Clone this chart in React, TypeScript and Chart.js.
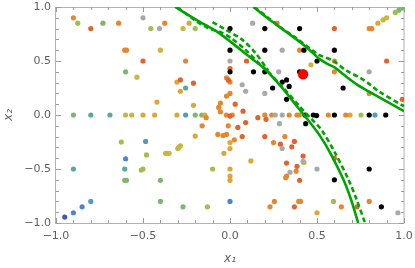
import React, { useEffect, useRef } from "react";
import { Chart, registerables } from "chart.js";

Chart.register(...registerables);

// ---------- data ----------
const tickValues = [-1, -0.5, 0, 0.5, 1];

const blackPts = [[0,0.8],[0.2,0.8],[0.4,0.8],[0,0.6],[0.2,0.6],[0.425,0.6],[0.6,0.6],[0.5,0.5],[0,0.4],[0.135,0.4],[0.2,0.4],[0.4,0.4],[0.3,0.305],[0.325,0.325],[0.245,0.25],[0.34,0.265],[0.65,0.25],[0.325,0.145],[0.431,0],[0.479,0],[0.498,-0.005],[0.6,0],[0.8,0],[0.895,0],[0.435,-0.08],[0.6,-0.6],[0.8,-0.5],[0.87,-0.85]];
const grayPts = [[-0.5,0.9],[-0.405,0.8],[0.13,0.85],[0.3,0.6],[0,0.5],[0.28,0.4],[0.8,0.4],[0.07,0.28],[0.09,0.22],[0.2,0.2],[0.26,0],[0.3,0],[0.284,-0.08],[0.3,-0.31],[0.42,-0.43],[0.345,-0.53],[0.5,-0.5],[0.965,-0.905]];
const orangeRedPts = [[-0.8,0.8],[0.6,0.8],[-0.5,0.5],[0.095,0.5],[0.9,0.5],[0,0.43],[-0.01,0.325],[-0.285,0.325],[-0.21,0.295],[0.03,0.1],[0.99,0.145],[0.075,0.035],[0,-0.01],[0.16,-0.025],[0.207,-0.04],[0.09,-0.07],[0.045,-0.115],[0.2,-0.2],[0.07,-0.2],[0.29,-0.27],[0.37,-0.245],[0.355,-0.295],[0.42,-0.38],[0.325,-0.445],[0.385,-0.475],[0.4,-0.605],[0.6,-0.4],[0.37,-0.85],[0.73,-0.85]];
const orangePts = [[-0.9,0.9],[-0.64,0.85],[-0.375,0.85],[0.27,0.85],[0.8,0.8],[0.815,0.8],[-0.605,0.6],[-0.595,0.6],[0.4,0.6],[-0.255,0.5],[0.6,0.5],[0.6,0.4],[-0.02,0.345],[0,0.305],[0.8,0.2],[0,0.2],[-0.02,0.175],[-0.055,0.11],[-0.065,0.07],[-0.055,0.03],[-0.137,-0.025],[-0.02,0],[0.013,0],[0.2,0],[0.24,0],[0.34,0],[0.385,0],[0.398,0],[0.565,0],[0.665,0],[-0.01,-0.1],[-0.16,-0.1],[0.315,-0.2],[0.025,-0.23],[-0.07,-0.18],[-0.04,-0.19],[-0.02,-0.18],[0.25,-0.255],[0.38,-0.52],[0.32,-0.58],[0.325,-0.565],[0.255,-0.8],[0.23,-0.85],[0.395,-0.8],[0.405,-0.8],[0.64,-0.85],[0.8,-0.8]];
const orangeYellowPts = [[-0.235,0.85],[0.85,0.85],[-0.305,0.305],[-0.285,0.22],[-0.21,0.09],[-0.42,0.12],[-0.5,0],[-0.433,0],[-0.305,0],[-0.145,0],[0.69,0],[-0.2,-0.195],[0,-0.255],[0,-0.31],[-0.035,-0.355],[0.12,-0.425],[0,-0.5],[0,-0.565],[0,-0.605],[0.5,-0.905]];
const yellowPts = [[-0.27,0.8],[-0.4,0.6],[0.88,0.88],[0.9,0.9],[0.465,0.465],[-0.535,0.35],[-0.6,0],[-0.565,0],[-0.285,-0.285],[-0.295,-0.3],[-0.3,-0.31],[-0.37,-0.355],[-0.36,-0.355],[-0.35,-0.355],[0.425,-0.44]];
const yellowGreenPts = [[-0.875,0.85],[-0.455,0.8],[-0.2,0.8],[0.95,0.95],[0.753,0],[-0.625,-0.25],[-0.48,-0.37],[-0.51,-0.51],[-0.5,-0.5],[-0.1,-0.5],[-0.13,-0.85],[0.595,-0.8]];
const greenPts = [[-0.73,0.85],[0.97,0.97],[0.99,0.99],[1.0,1.0],[-0.6,0.4],[-0.9,0],[-0.2,0],[-0.162,0],[-0.605,-0.605],[-0.595,-0.605],[-0.4,-0.605],[-0.4,-0.8],[-0.27,-0.85]];
const tealPts = [[-0.8,0],[-0.69,0],[-0.255,0.25],[-0.9,-0.5],[-0.605,-0.5]];
const tealBluePts = [[-0.255,0],[0.833,0],[-0.485,-0.245],[-0.8,-0.8]];
const bluePts = [[-0.6,-0.405],[0,-0.8],[-0.85,-0.85],[-0.9,-0.905]];
const deepBluePts = [[-0.95,-0.945]];
const redPt = [[0.42,0.377]];

const curveASolid = [[-0.315,1.0],[-0.181,0.87],[-0.067,0.763],[0.01,0.67],[0.106,0.546],[0.202,0.423],[0.307,0.238],[0.383,0.083],[0.46,-0.07],[0.52,-0.2],[0.575,-0.348],[0.651,-0.595],[0.695,-0.78],[0.737,-1.0]];
const curveADashed = [[-0.3,0.995],[-0.2,0.875],[-0.12,0.8],[-0.05,0.765],[0.01,0.707],[0.086,0.608],[0.163,0.485],[0.21,0.415],[0.31,0.245],[0.4,0.08],[0.47,-0.04],[0.527,-0.14],[0.603,-0.348],[0.68,-0.595],[0.727,-0.78],[0.776,-1.0]];
const curveADashedOuter = [[-0.1,0.86],[-0.03,0.795],[0.068,0.7],[0.144,0.578],[0.22,0.41]];
const curveBSolid = [[0.134,1.0],[0.211,0.902],[0.316,0.778],[0.431,0.639],[0.517,0.516],[0.565,0.469],[0.603,0.439],[0.651,0.377],[0.728,0.284],[0.794,0.222],[1.0,0.035]];
const curveBDashed = [[0.14,1.0],[0.215,0.905],[0.3,0.8],[0.374,0.72],[0.507,0.562],[0.594,0.5],[0.67,0.41],[0.747,0.346],[0.804,0.284],[0.852,0.222],[1.0,0.08]];

// ---------- helpers ----------
const toXY = (arr) => arr.map(([x, y]) => ({ x, y }));
const fmt = (v) => (v < 0 ? "\u2212" : "") + Math.abs(v).toFixed(1);

const GREEN = "#00a400";

const pointSet = (data, color, r = 2.6) => ({
  type: "scatter",
  data: toXY(data),
  pointRadius: r,
  pointHoverRadius: r,
  pointBackgroundColor: color,
  pointBorderWidth: 0,
  borderWidth: 0,
  showLine: false,
  order: 3,
});

const lineSet = (data, dashed) => ({
  type: "scatter",
  data: toXY(data),
  showLine: true,
  pointRadius: 0,
  borderColor: GREEN,
  borderWidth: 2.6,
  borderDash: dashed ? [5, 3] : [],
  tension: 0.3,
  fill: false,
  order: 2,
});

const frameTicks = {
  id: "frameTicks",
  beforeDatasetsDraw(chart) {
    const { ctx, chartArea: a, scales } = chart;
    const xs = scales.x, ys = scales.y;
    ctx.save();
    ctx.strokeStyle = "#b2b2b2";
    ctx.lineWidth = 1;
    ctx.strokeRect(a.left - 0.5, a.top + 0.5, a.right - a.left + 0.5, a.bottom - a.top);
    ctx.strokeStyle = "#9c9c9c";
    ctx.beginPath();
    for (let i = -10; i <= 10; i++) {
      const v = i / 10;
      const len = i % 5 === 0 ? 5 : 3;
      const px = Math.round(xs.getPixelForValue(v)) + 0.5;
      ctx.moveTo(px, a.bottom);
      ctx.lineTo(px, a.bottom - len);
      ctx.moveTo(px, a.top);
      ctx.lineTo(px, a.top + len);
      const py = Math.round(ys.getPixelForValue(v)) + 0.5;
      ctx.moveTo(a.left, py);
      ctx.lineTo(a.left + len, py);
      ctx.moveTo(a.right, py);
      ctx.lineTo(a.right - len, py);
    }
    ctx.stroke();
    ctx.restore();
  },
};

export default function App() {
  const ref = useRef(null);
  useEffect(() => {
    const tickFont = { family: "'DejaVu Sans', sans-serif", size: 11 };
    const titleFont = { family: "'DejaVu Sans', sans-serif", size: 12, style: "italic" };
    const chart = new Chart(ref.current, {
      type: "scatter",
      data: {
        datasets: [
          { ...pointSet(redPt, "#ff0000", 5.2), order: 0 },
          lineSet(curveASolid, false),
          lineSet(curveADashed, true),
          lineSet(curveADashedOuter, true),
          lineSet(curveBSolid, false),
          lineSet(curveBDashed, true),
          pointSet(blackPts, "#000000"),
          pointSet(grayPts, "#a9a9a9"),
          pointSet(orangeRedPts, "#e2632c"),
          pointSet(orangePts, "#e6872f"),
          pointSet(orangeYellowPts, "#dea636"),
          pointSet(yellowPts, "#c8b73b"),
          pointSet(yellowGreenPts, "#a3bd4e"),
          pointSet(greenPts, "#7bb86d"),
          pointSet(tealPts, "#5aa9a0"),
          pointSet(tealBluePts, "#4d9ec2"),
          pointSet(bluePts, "#4b86d0"),
          pointSet(deepBluePts, "#3a58c8"),
        ],
      },
      options: {
        responsive: false,
        animation: false,
        events: [],
        layout: { padding: { left: 0, top: 7, right: 11, bottom: 0 } },
        plugins: { legend: { display: false }, tooltip: { enabled: false } },
        scales: {
          x: {
            type: "linear",
            min: -1,
            max: 1,
            afterFit: (s) => { s.height = 45; s.paddingLeft = 0; s.paddingRight = 0; },
            afterBuildTicks: (s) => { s.ticks = tickValues.map((v) => ({ value: v })); },
            grid: { display: false, drawTicks: false },
            border: { display: false },
            ticks: { autoSkip: false, maxRotation: 0, padding: 7, color: "#606060", font: tickFont, callback: (v) => fmt(Number(v)) },
            title: { display: true, text: "x\u2081", color: "#606060", font: titleFont, padding: { top: 0, bottom: 2 } },
          },
          y: {
            type: "linear",
            min: -1,
            max: 1,
            afterFit: (s) => { s.width = 56; s.paddingTop = 0; s.paddingBottom = 0; },
            afterBuildTicks: (s) => { s.ticks = tickValues.map((v) => ({ value: v })); },
            grid: { display: false, drawTicks: false },
            border: { display: false },
            ticks: { autoSkip: false, padding: 5, color: "#606060", font: tickFont, callback: (v) => fmt(Number(v)) },
            title: { display: true, text: "x\u2082", color: "#606060", font: titleFont, padding: { top: 2, bottom: 0 } },
          },
        },
      },
      plugins: [frameTicks],
    });
    return () => chart.destroy();
  }, []);
  return (
    <div style={{ position: "fixed", left: 0, top: 0, width: 415, height: 268, background: "#fff" }}>
      <canvas ref={ref} width={415} height={268} />
    </div>
  );
}
